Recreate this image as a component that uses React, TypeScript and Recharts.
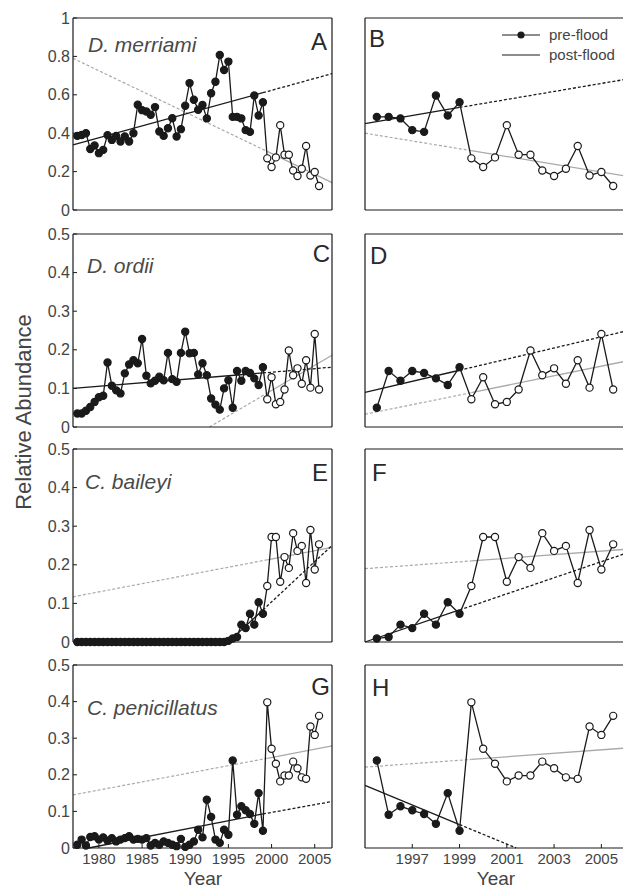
import React from 'react';
import { ComposedChart, Line, XAxis, YAxis } from 'recharts';

// ---------- categories (sampling times) ----------
const preTimes = [1977.5, 1978, 1978.5, 1979, 1979.5, 1980, 1980.5, 1981, 1981.5, 1982, 1982.5, 1983, 1983.5, 1984, 1984.5, 1985, 1985.5, 1986, 1986.5, 1987, 1987.5, 1988, 1988.5, 1989, 1989.5, 1990, 1990.5, 1991, 1991.5, 1992, 1992.5, 1993, 1993.5, 1994, 1994.5, 1995, 1995.5, 1996, 1996.5, 1997, 1997.5, 1998, 1998.5, 1999];
const postTimes = [1999.5, 2000, 2000.5, 2001, 2001.5, 2002, 2002.5, 2003, 2003.5, 2004, 2004.5, 2005, 2005.5];

// ---------- series values ----------
const merriamiPre = [0.386, 0.391, 0.4, 0.318, 0.336, 0.296, 0.313, 0.39, 0.365, 0.386, 0.357, 0.383, 0.357, 0.4, 0.548, 0.52, 0.513, 0.496, 0.536, 0.409, 0.386, 0.426, 0.478, 0.383, 0.421, 0.543, 0.661, 0.574, 0.522, 0.547, 0.477, 0.608, 0.668, 0.807, 0.729, 0.773, 0.485, 0.485, 0.477, 0.416, 0.407, 0.596, 0.492, 0.561];
const merriamiPost = [0.269, 0.224, 0.274, 0.442, 0.288, 0.288, 0.206, 0.177, 0.215, 0.333, 0.18, 0.198, 0.125];

const ordiiPre = [0.035, 0.035, 0.042, 0.052, 0.065, 0.077, 0.081, 0.167, 0.107, 0.095, 0.087, 0.139, 0.162, 0.173, 0.165, 0.228, 0.133, 0.113, 0.12, 0.13, 0.121, 0.192, 0.124, 0.117, 0.192, 0.247, 0.191, 0.192, 0.136, 0.165, 0.134, 0.074, 0.058, 0.045, 0.1, 0.121, 0.05, 0.145, 0.12, 0.145, 0.14, 0.126, 0.109, 0.155];
const ordiiPost = [0.072, 0.129, 0.059, 0.065, 0.097, 0.198, 0.134, 0.152, 0.112, 0.173, 0.102, 0.241, 0.097];

const baileyiPre = [0, 0, 0, 0, 0, 0, 0, 0, 0, 0, 0, 0, 0, 0, 0, 0, 0, 0, 0, 0, 0, 0, 0, 0, 0, 0, 0, 0, 0, 0, 0, 0, 0, 0, 0, 0.003, 0.009, 0.013, 0.045, 0.036, 0.073, 0.045, 0.103, 0.073];
const baileyiPost = [0.145, 0.272, 0.272, 0.156, 0.22, 0.192, 0.282, 0.236, 0.249, 0.153, 0.29, 0.188, 0.253];

const penicillatusPre = [0.009, 0.023, 0.007, 0.03, 0.032, 0.023, 0.029, 0.02, 0.027, 0.018, 0.023, 0.027, 0.032, 0.023, 0.025, 0.023, 0.027, 0.007, 0.014, 0.009, 0.018, 0.014, 0.009, 0.005, 0.025, 0.003, 0.009, 0.018, 0.05, 0.029, 0.132, 0.085, 0.023, 0.014, 0.05, 0.036, 0.239, 0.091, 0.114, 0.103, 0.093, 0.066, 0.15, 0.047];
const penicillatusPost = [0.398, 0.271, 0.23, 0.182, 0.198, 0.198, 0.236, 0.218, 0.193, 0.189, 0.332, 0.309, 0.361];

// ---------- regression lines: [start, break, end] as [year, value] ----------
type Pt = [number, number];
const trendAPre: Pt[] = [[1977, 0.339], [1999, 0.611], [2007, 0.71]];
const trendAPost: Pt[] = [[1977, 0.79], [1999.5, 0.305], [2007, 0.143]];
const trendBPre: Pt[] = [[1995, 0.45], [1999, 0.534], [2006, 0.68]];
const trendBPost: Pt[] = [[1995, 0.4], [1999.5, 0.309], [2006, 0.177]];
const trendCPre: Pt[] = [[1977, 0.1], [1999, 0.14], [2007, 0.155]];
const trendCPost: Pt[] = [[1992.8, 0], [1999.5, 0.088], [2007, 0.186]];
const trendDPre: Pt[] = [[1995, 0.09], [1999, 0.147], [2006, 0.248]];
const trendDPost: Pt[] = [[1995, 0.033], [1999.5, 0.089], [2006, 0.17]];
const trendEPre: Pt[] = [[1995, 0.0], [1999, 0.083], [2007, 0.25]];
const trendEPost: Pt[] = [[1977, 0.117], [1999.5, 0.213], [2007, 0.245]];
const trendFPre: Pt[] = [[1995, 0.0], [1999, 0.083], [2006, 0.229]];
const trendFPost: Pt[] = [[1995, 0.19], [1999.5, 0.21], [2006, 0.24]];
const trendGPre: Pt[] = [[1978.8, 0], [1999, 0.093], [2007, 0.127]];
const trendGPost: Pt[] = [[1977, 0.145], [1999.5, 0.245], [2007, 0.279]];
const trendHPre: Pt[] = [[1995, 0.171], [1999, 0.064], [2001.4, 0]];
const trendHPost: Pt[] = [[1995, 0.221], [1999.5, 0.242], [2006, 0.273]];

// ---------- tick labels ----------
const leftYearTicks = [1980, 1985, 1990, 1995, 2000, 2005];
const rightYearTicks = [1997, 1999, 2001, 2003, 2005];
const ticksOne = [0, 0.2, 0.4, 0.6, 0.8, 1];
const ticksHalf = [0, 0.1, 0.2, 0.3, 0.4, 0.5];

// ---------- style ----------
const FONT = '"Liberation Sans", Arial, Helvetica, sans-serif';
const INK = '#1a1a1a';
const GREY = '#a9a9a9';
const TEXT = '#444';

const seg = (a: Pt, b: Pt) => [{ x: a[0], y: a[1] }, { x: b[0], y: b[1] }];

const renderDot = (p: any) => (
  <circle
    key={`dot-${p.index}`}
    cx={p.cx}
    cy={p.cy}
    r={3.6}
    fill={p.payload && p.payload.post ? '#ffffff' : INK}
    stroke={INK}
    strokeWidth={1.2}
  />
);

type PanelProps = {
  plotLeft: number;
  plotTop: number;
  plotW: number;
  plotH: number;
  leftW: number;
  xDomain: [number, number];
  xTicks: number[];
  yDomain: [number, number];
  yTicks: number[];
  showX: boolean;
  showY: boolean;
  pre: number[];
  post: number[];
  fromYear: number;
  tPre: Pt[];
  tPost: Pt[];
};

function Panel(props: PanelProps) {
  const { plotLeft, plotTop, plotW, plotH, leftW, xDomain, xTicks, yDomain, yTicks, showX, showY, pre, post, fromYear, tPre, tPost } = props;
  const data = [
    ...preTimes.map((x, i) => ({ x, y: pre[i], post: false })).filter((d) => d.x >= fromYear),
    ...postTimes.map((x, i) => ({ x, y: post[i], post: true })),
  ];
  const mt = 12, topH = 1, bottomH = 30, mb = 2, rightW = 1, mr = 4;
  const W = leftW + plotW + rightW + mr;
  const H = mt + topH + plotH + bottomH + mb;
  const xTickStyle = { fontSize: 15, fill: TEXT, fontFamily: FONT };
  const yTickStyle = { fontSize: 16, fill: TEXT, fontFamily: FONT };
  return (
    <div style={{ position: 'absolute', left: plotLeft - leftW, top: plotTop - mt - topH }}>
      <ComposedChart width={W} height={H} margin={{ top: mt, right: mr, bottom: mb, left: 0 }}>
        <XAxis
          xAxisId="b"
          orientation="bottom"
          type="number"
          dataKey="x"
          domain={xDomain}
          ticks={xTicks}
          interval={0}
          height={bottomH}
          tickSize={-4}
          tickMargin={9}
          tick={showX ? xTickStyle : false}
          axisLine={{ stroke: INK, strokeWidth: 1.2 }}
          tickLine={{ stroke: INK }}
        />
        <XAxis
          xAxisId="t"
          orientation="top"
          type="number"
          dataKey="x"
          domain={xDomain}
          ticks={xTicks}
          interval={0}
          height={topH}
          tickSize={-4}
          tick={false}
          axisLine={{ stroke: INK, strokeWidth: 1.2 }}
          tickLine={{ stroke: INK }}
        />
        <YAxis
          yAxisId="l"
          orientation="left"
          type="number"
          domain={yDomain}
          ticks={yTicks}
          interval={0}
          width={leftW}
          tickSize={-4}
          tickMargin={7}
          tick={showY ? yTickStyle : false}
          axisLine={{ stroke: INK, strokeWidth: 1.2 }}
          tickLine={{ stroke: INK }}
        />
        <YAxis
          yAxisId="r"
          orientation="right"
          type="number"
          domain={yDomain}
          ticks={yTicks}
          interval={0}
          width={rightW}
          tickSize={-4}
          tick={false}
          axisLine={{ stroke: INK, strokeWidth: 1.2 }}
          tickLine={{ stroke: INK }}
        />
        <Line xAxisId="t" yAxisId="r" data={data} dataKey="y" stroke="none" dot={false} activeDot={false} isAnimationActive={false} />
        {/* post-flood regression: dashed before, solid over post-flood period */}
        <Line xAxisId="b" yAxisId="l" data={seg(tPost[0], tPost[1])} dataKey="y" stroke={GREY} strokeWidth={1.2} strokeDasharray="3 2" dot={false} activeDot={false} isAnimationActive={false} />
        <Line xAxisId="b" yAxisId="l" data={seg(tPost[1], tPost[2])} dataKey="y" stroke={GREY} strokeWidth={1.3} dot={false} activeDot={false} isAnimationActive={false} />
        {/* pre-flood regression: solid over pre-flood period, dashed after */}
        <Line xAxisId="b" yAxisId="l" data={seg(tPre[0], tPre[1])} dataKey="y" stroke={INK} strokeWidth={1.3} dot={false} activeDot={false} isAnimationActive={false} />
        <Line xAxisId="b" yAxisId="l" data={seg(tPre[1], tPre[2])} dataKey="y" stroke={INK} strokeWidth={1.3} strokeDasharray="3 2" dot={false} activeDot={false} isAnimationActive={false} />
        {/* observations */}
        <Line xAxisId="b" yAxisId="l" data={data} dataKey="y" stroke={INK} strokeWidth={1.3} dot={renderDot} activeDot={false} isAnimationActive={false} />
      </ComposedChart>
    </div>
  );
}

const rows = [
  { top: 18, h: 192 },
  { top: 234, h: 193 },
  { top: 449, h: 193 },
  { top: 665, h: 183 },
];

export default function App() {
  const L = { plotLeft: 73, plotW: 259, leftW: 60, xDomain: [1977, 2007] as [number, number], xTicks: leftYearTicks, showY: true, fromYear: 1977 };
  const R = { plotLeft: 365, plotW: 260, leftW: 10, xDomain: [1995, 2006] as [number, number], xTicks: rightYearTicks, showY: false, fromYear: 1995.5 };
  return (
    <div style={{ position: 'absolute', left: 0, top: 0, width: 623, height: 889, overflow: 'hidden', background: '#fff', fontFamily: FONT }}>
      <Panel {...L} plotTop={rows[0].top} plotH={rows[0].h} yDomain={[0, 1]} yTicks={ticksOne} showX={false} pre={merriamiPre} post={merriamiPost} tPre={trendAPre} tPost={trendAPost} />
      <Panel {...R} plotTop={rows[0].top} plotH={rows[0].h} yDomain={[0, 1]} yTicks={ticksOne} showX={false} pre={merriamiPre} post={merriamiPost} tPre={trendBPre} tPost={trendBPost} />
      <Panel {...L} plotTop={rows[1].top} plotH={rows[1].h} yDomain={[0, 0.5]} yTicks={ticksHalf} showX={false} pre={ordiiPre} post={ordiiPost} tPre={trendCPre} tPost={trendCPost} />
      <Panel {...R} plotTop={rows[1].top} plotH={rows[1].h} yDomain={[0, 0.5]} yTicks={ticksHalf} showX={false} pre={ordiiPre} post={ordiiPost} tPre={trendDPre} tPost={trendDPost} />
      <Panel {...L} plotTop={rows[2].top} plotH={rows[2].h} yDomain={[0, 0.5]} yTicks={ticksHalf} showX={false} pre={baileyiPre} post={baileyiPost} tPre={trendEPre} tPost={trendEPost} />
      <Panel {...R} plotTop={rows[2].top} plotH={rows[2].h} yDomain={[0, 0.5]} yTicks={ticksHalf} showX={false} pre={baileyiPre} post={baileyiPost} tPre={trendFPre} tPost={trendFPost} />
      <Panel {...L} plotTop={rows[3].top} plotH={rows[3].h} yDomain={[0, 0.5]} yTicks={ticksHalf} showX={true} pre={penicillatusPre} post={penicillatusPost} tPre={trendGPre} tPost={trendGPost} />
      <Panel {...R} plotTop={rows[3].top} plotH={rows[3].h} yDomain={[0, 0.5]} yTicks={ticksHalf} showX={true} pre={penicillatusPre} post={penicillatusPost} tPre={trendHPre} tPost={trendHPost} />

      <svg width={623} height={889} style={{ position: 'absolute', left: 0, top: 0, pointerEvents: 'none' }}>
        <g fontFamily={FONT} fontStyle="italic" fontSize={21} fill="#4a4a4a">
          <text x={88} y={52}>D. merriami</text>
          <text x={87} y={273}>D. ordii</text>
          <text x={85} y={489}>C. baileyi</text>
          <text x={87} y={715}>C. penicillatus</text>
        </g>
        <g fontFamily={FONT} fontSize={24} fill="#2a2a2a">
          <text x={327} y={50} textAnchor="end">A</text>
          <text x={369} y={47}>B</text>
          <text x={330} y={262} textAnchor="end">C</text>
          <text x={370} y={264}>D</text>
          <text x={328} y={481} textAnchor="end">E</text>
          <text x={372} y={481}>F</text>
          <text x={330} y={695} textAnchor="end">G</text>
          <text x={372} y={696}>H</text>
        </g>
        <g fontFamily={FONT} fontSize={19} fill={TEXT}>
          <text x={203} y={885} textAnchor="middle">Year</text>
          <text x={496} y={885} textAnchor="middle">Year</text>
        </g>
        <text transform="translate(31,412) rotate(-90)" textAnchor="middle" fontFamily={FONT} fontSize={22} fill={TEXT}>Relative Abundance</text>
        <g>
          <line x1={502} y1={35} x2={540} y2={35} stroke={INK} strokeWidth={1.2} />
          <circle cx={521} cy={35} r={3.6} fill={INK} />
          <line x1={502} y1={55} x2={540} y2={55} stroke={INK} strokeWidth={1.2} />
          <text x={549} y={39.5} fontFamily={FONT} fontSize={15} fill={TEXT}>pre-flood</text>
          <text x={549} y={59.5} fontFamily={FONT} fontSize={15} fill={TEXT}>post-flood</text>
        </g>
      </svg>
    </div>
  );
}
